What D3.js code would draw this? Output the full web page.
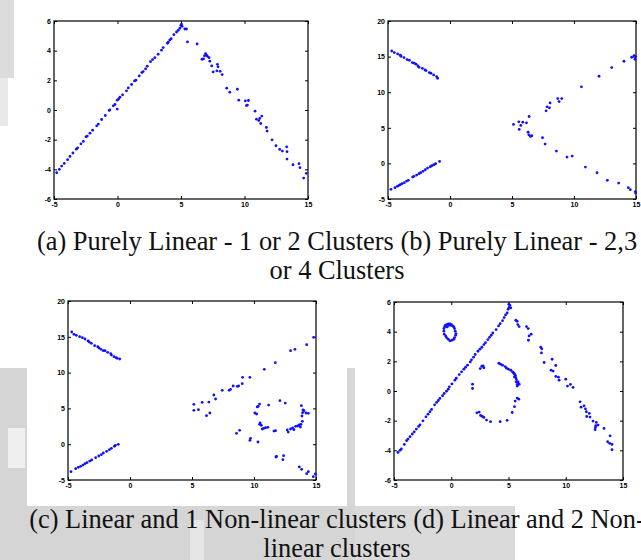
<!DOCTYPE html>
<html>
<head>
<meta charset="utf-8">
<script src="https://cdn.jsdelivr.net/npm/d3@7"></script>
<style>
	body { margin: 0; background: #fff; }
	svg { display: block; }
	.caption { font-family: "Liberation Serif", "Times New Roman", Times, "DejaVu Serif", serif; }
	.tick text { font-family: "Liberation Sans", Arial, Helvetica, sans-serif; }
</style>
</head>
<body>
<svg id="chart" width="641" height="560"></svg>
<script>
	// tick values shared by the four panels
	var xTicks = [-5, 0, 5, 10, 15];
	var yTicksSmall = [-6, -4, -2, 0, 2, 4, 6];
	var yTicksLarge = [-5, 0, 5, 10, 15, 20];

	// (a) purely linear, 1 or 2 clusters
	var pointsA = [
		[-4.79,-4.23],[-4.58,-4.0],[-4.40,-3.78],[-4.19,-3.60],[-3.93,-3.35],[-3.74,-3.13],
		[-3.51,-2.90],[-3.24,-2.64],[-3.14,-2.55],[-2.88,-2.28],[-2.69,-2.12],[-2.48,-1.81],
		[-2.38,-1.76],[-2.17,-1.56],[-1.96,-1.36],[-1.64,-1.07],[-1.51,-0.95],[-1.25,-0.64],
		[-0.96,-0.37],[-0.65,-0.03],[-0.60,0.01],[-0.33,0.28],[-0.20,0.37],[-0.02,0.66],
		[0.09,0.75],[0.19,0.86],[0.40,1.02],[0.71,1.29],[0.85,1.49],[1.11,1.72],[1.34,1.96],
		[1.45,2.01],[1.71,2.30],[1.92,2.52],[2.02,2.59],[2.21,2.77],[2.34,2.95],[2.60,3.26],
		[2.76,3.40],[2.94,3.53],[3.20,3.76],[3.47,4.03],[3.60,4.21],[3.94,4.50],[3.99,4.57],
		[4.12,4.72],[4.23,4.81],[4.44,5.08],[4.65,5.26],[4.78,5.37],[4.91,5.51],[4.99,5.71],
		[5.04,5.78],[5.09,5.64],[-0.02,0.06],
		[5.30,5.46],[5.43,5.46],[5.51,4.59],[6.27,4.45],[6.66,3.42],[6.77,3.44],[6.85,3.65],
		[6.93,3.80],[7.01,3.69],[7.08,3.62],[7.21,3.53],[7.27,3.29],[7.42,2.97],[7.53,2.57],
		[7.82,2.64],[7.87,3.08],[7.92,2.91],[8.08,2.61],[8.24,2.39],[8.60,1.47],[8.84,1.20],
		[9.44,1.40],[9.55,0.66],[10.07,0.62],[10.15,0.30],[10.23,0.33],[10.31,0.64],
		[10.83,-0.08],[10.94,-0.62],[11.12,-0.71],[11.20,-0.57],[11.28,-0.91],[11.36,-0.41],
		[11.72,-1.18],[11.78,-1.42],[12.17,-2.01],[12.48,-2.41],[12.77,-2.66],[12.98,-2.77],
		[13.32,-2.48],[13.35,-2.81],[13.35,-3.31],[13.82,-3.69],[14.29,-3.62],[14.37,-3.89],
		[14.66,-4.59],[14.87,-4.27]
	];

	// (b) purely linear, 2, 3 or 4 clusters
	var pointsB = [
		[-4.70,15.79],[-4.49,15.56],[-4.22,15.37],[-4.01,15.19],[-3.95,15.05],[-3.71,14.86],
		[-3.47,14.58],[-3.28,14.49],[-3.04,14.16],[-2.88,14.07],[-2.74,13.93],[-2.58,13.69],
		[-2.50,13.50],[-2.23,13.36],[-2.02,13.13],[-1.94,13.04],[-1.67,12.76],[-1.54,12.66],
		[-1.32,12.43],[-1.08,12.20],[-1.00,11.96],
		[-4.76,-3.64],[-4.44,-3.41],[-4.25,-3.22],[-4.11,-3.08],[-4.01,-2.99],[-3.87,-2.85],
		[-3.68,-2.71],[-3.50,-2.48],[-3.36,-2.38],[-3.01,-1.92],[-2.91,-1.82],[-2.69,-1.64],
		[-2.50,-1.45],[-2.37,-1.31],[-2.18,-1.12],[-1.99,-0.89],[-1.81,-0.65],[-1.59,-0.47],
		[-1.46,-0.33],[-1.30,-0.19],[-1.16,-0.05],[-0.84,0.28],
		[5.12,5.47],[5.55,5.84],[5.71,5.33],[5.87,5.79],[6.17,5.70],[6.38,6.59],[7.75,7.38],
		[7.83,7.94],[8.02,7.80],[8.07,8.50],[8.69,9.11],[8.80,8.69],[9.01,9.11],[10.60,10.75],
		[12.02,12.24],[13.04,13.46],[14.03,14.35],[14.65,14.91],[14.84,15.14],[14.92,14.63],
		[14.97,15.0],
		[5.58,4.77],[6.30,4.39],[6.36,4.02],[6.49,3.79],[6.60,3.88],
		[7.46,3.60],[7.67,2.71],[8.58,1.73],[9.44,0.89],[9.85,1.03],[10.92,-0.51],[11.86,-1.31],
		[12.69,-2.38],[13.60,-2.76],[14.38,-3.41],[14.54,-3.69],[14.95,-3.97],[14.97,-4.16]
	];

	// (c) linear and 1 non-linear cluster
	var pointsC = [
		[-4.70,15.67],[-4.52,15.34],[-4.33,15.20],[-4.06,15.02],[-3.84,14.88],[-3.63,14.69],
		[-3.38,14.41],[-3.28,14.27],[-3.12,14.09],[-2.85,13.76],[-2.60,13.62],[-2.50,13.44],
		[-2.34,13.25],[-2.15,13.06],[-2.01,13.06],[-1.80,12.83],[-1.55,12.64],[-1.50,12.46],
		[-1.29,12.23],[-1.12,12.09],[-1.04,11.99],[-0.83,11.90],
		[-4.76,-3.84],[-4.38,-3.42],[-4.17,-3.23],[-3.98,-3.09],[-3.79,-2.91],[-3.63,-2.72],
		[-3.47,-2.58],[-3.25,-2.35],[-3.09,-2.21],[-2.77,-1.88],[-2.52,-1.65],[-2.31,-1.46],
		[-2.15,-1.23],[-1.88,-1.00],[-1.66,-0.76],[-1.50,-0.58],[-1.26,-0.30],[-1.18,-0.16],
		[-0.94,-0.02],
		[5.15,5.57],[5.15,4.73],[5.52,4.82],[5.82,5.85],[6.17,3.99],[6.36,5.89],[6.44,4.36],
		[6.76,6.87],[6.90,6.31],[7.44,7.52],[8.00,7.52],[8.11,7.66],[8.32,8.13],[8.65,8.08],
		[8.76,8.13],[9.05,8.45],[9.08,9.34],[9.67,9.34],[10.83,10.46],[11.72,11.39],
		[12.95,13.06],[13.30,13.25],[14.25,13.90],[14.81,14.93],
		[8.59,1.52],[8.84,1.94],[9.67,0.54],[9.72,0.82],[10.32,0.31],[11.82,-1.69],[11.77,-1.79],
		[12.33,-2.16],[12.39,-1.60],[13.65,-3.18],[13.84,-3.51],[14.25,-4.12],[14.38,-3.84],
		[14.78,-4.53],[14.95,-4.16],
		[10.07,4.36],[10.21,4.22],[10.26,5.20],[10.34,5.29],[10.45,5.61],[10.45,2.77],
		[10.50,2.96],[10.59,2.64],[10.67,2.12],[10.80,2.22],[10.94,2.31],[11.12,2.36],
		[11.18,5.47],[11.61,1.84],[11.74,1.89],[12.09,6.08],[12.52,5.75],[12.68,1.98],
		[12.76,1.70],[12.95,2.12],[13.12,2.26],[13.22,2.03],[13.36,2.50],[13.52,2.54],
		[13.65,2.68],[13.74,2.40],[13.79,2.77],[13.90,3.19],[13.87,3.94],[13.92,4.40],
		[13.82,5.38],[13.95,4.78],[14.03,4.68],[14.19,4.36],[14.38,4.31]
	];

	// (d) linear and 2 non-linear clusters
	var pointsD = [
		[-4.65,-4.14],[-4.48,-4.00],[-4.36,-3.91],[-4.10,-3.60],[-3.90,-3.35],[-3.78,-3.24],
		[-3.60,-3.08],[-3.40,-2.90],[-3.23,-2.75],[-3.05,-2.57],[-2.85,-2.39],[-2.73,-2.28],
		[-2.47,-2.01],[-2.21,-1.74],[-2.03,-1.56],[-1.86,-1.40],[-1.72,-1.24],[-1.45,-0.93],
		[-1.28,-0.77],[-1.13,-0.64],[-0.99,-0.50],[-0.76,-0.32],[-0.61,-0.17],[-0.41,-0.01],
		[-0.26,0.12],[-0.17,0.28],[0.06,0.48],[0.32,0.73],[0.44,0.86],[0.70,1.11],[0.90,1.29],
		[1.10,1.47],[1.25,1.60],[1.42,1.74],[1.66,1.96],[1.77,2.10],[1.95,2.28],[2.09,2.46],
		[2.33,2.68],[2.50,2.82],[2.67,2.95],[2.85,3.13],[2.99,3.26],[3.20,3.47],[3.34,3.62],
		[3.49,3.76],[3.63,3.91],[3.92,4.14],[4.13,4.39],[4.27,4.54],[4.48,4.74],[4.62,4.95],
		[4.74,5.13],[4.88,5.26],[4.97,5.51],[5.06,5.64],[5.12,5.78],[5.03,5.84],[5.20,5.60],
		[5.64,4.77],[5.76,4.70],[5.81,4.48],[5.93,4.34],[6.57,4.34],[6.72,4.21],[6.80,3.71],
		[6.74,3.42],[6.98,3.83],[7.82,2.95],[7.91,2.84],[7.88,2.57],[8.11,1.92],[8.72,1.40],
		[8.81,2.14],[8.90,1.34],[9.13,1.72],[9.13,0.98],[9.36,0.93],[9.42,0.73],[10.00,0.80],
		[10.15,0.33],[10.41,0.44],[10.64,0.24],[11.25,-0.73],[11.34,-1.09],[11.60,-1.00],
		[11.72,-1.20],[11.80,-1.40],[11.83,-1.72],[12.06,-1.51],[12.12,-1.76],[12.38,-2.03],
		[12.62,-2.34],[12.59,-2.46],[12.67,-2.12],[12.56,-2.61],[12.82,-2.30],[13.34,-2.52],
		[13.87,-3.02],[13.66,-3.42],[13.84,-3.53],[14.04,-3.60],[14.04,-3.96],
		[-0.64,4.03],[-0.58,4.32],[-0.52,4.43],[-0.41,4.48],[-0.26,4.52],[-0.12,4.52],
		[-0.03,4.43],[0.12,4.39],[0.23,4.32],[0.29,4.21],[0.35,4.03],[0.41,3.87],[0.38,3.76],
		[0.29,3.60],[0.23,3.49],[0.06,3.42],[-0.12,3.38],[-0.26,3.49],[-0.41,3.60],
		[-0.49,3.71],[-0.61,3.83],[-0.64,4.21],[-0.35,4.32],[-0.20,4.43],[0.03,4.48],
		[1.86,0.46],[1.86,0.17],[2.53,1.51],[2.67,1.67],[2.79,1.69],[2.85,1.56],[2.24,-1.47],
		[2.44,-1.42],[2.56,-1.65],[2.73,-1.72],[2.85,-1.78],[3.08,-1.96],[3.43,-2.07],
		[4.27,-2.07],[4.88,-1.98],[5.32,-1.45],[5.52,-1.06],[5.58,-0.68],[5.76,-0.48],
		[5.90,-0.55],[5.76,0.33],[5.84,0.46],[5.93,0.46],[5.84,0.62],[5.70,0.77],[5.64,0.89],
		[5.61,1.02],[5.55,1.11],[5.49,1.18],[5.41,1.25],[5.35,1.29],[5.20,1.40],[5.00,1.47],
		[4.83,1.54],[4.71,1.65],[4.48,1.74],[4.30,1.81],[4.16,1.87],[5.52,0.95],[5.67,0.62],
		[5.76,0.44]
	];

	var captionsTop = ["(a) Purely Linear - 1 or 2 Clusters (b) Purely Linear - 2,3", "or 4 Clusters"];
	var captionsBottom = ["(c) Linear and 1 Non-linear clusters (d) Linear and 2 Non-", "linear clusters"];

	var svg = d3.select("#chart");

	//  faded scan background behind the figure
	var bg = svg.append("g").attr("class", "background");
	[
		{x: 0, y: 0, w: 14, h: 78, c: "#dcdcdc"},
		{x: 0, y: 78, w: 8, h: 48, c: "#e9e9e9"},
		{x: 0, y: 368, w: 27, h: 192, c: "#d5d5d5"},
		{x: 8, y: 428, w: 17, h: 40, c: "#efefef"},
		{x: 347, y: 368, w: 8, h: 138, c: "#d6d6d6"},
		{x: 0, y: 506, w: 515, h: 54, c: "#d5d5d5"},
		{x: 190, y: 520, w: 14, h: 40, c: "#e6e6e6"},
		{x: 355, y: 506, w: 160, h: 54, c: "#dadada"}
	].forEach(function(r) {
		bg.append("rect").attr("x", r.x).attr("y", r.y)
			.attr("width", r.w).attr("height", r.h).attr("fill", r.c);
	});
	// panel (c) and (d) paper is white on top of the grey
	bg.append("rect").attr("x", 27).attr("y", 290).attr("width", 320).attr("height", 216).attr("fill", "#fff");

	var panels = [
		{data: pointsA, yDomain: [-6, 6], yTicks: yTicksSmall, left: 54, top: 21, right: 308, bottom: 199},
		{data: pointsB, yDomain: [-5, 20], yTicks: yTicksLarge, left: 388, top: 21, right: 636, bottom: 199},
		{data: pointsC, yDomain: [-5, 20], yTicks: yTicksLarge, left: 68, top: 301, right: 316, bottom: 480},
		{data: pointsD, yDomain: [-6, 6], yTicks: yTicksSmall, left: 394, top: 302, right: 623, bottom: 480}
	];

	function fmt(d) { return String(d); }

	panels.forEach(function(p) {
		var x = d3.scaleLinear().domain([-5, 15]).range([p.left, p.right]);
		var y = d3.scaleLinear().domain(p.yDomain).range([p.bottom, p.top]);
		var g = svg.append("g").attr("class", "panel");

		g.append("rect")
			.attr("x", p.left).attr("y", p.top)
			.attr("width", p.right - p.left).attr("height", p.bottom - p.top)
			.attr("fill", "#fff");

		var axes = [
			{axis: d3.axisBottom(x).tickValues(xTicks).tickFormat(fmt), t: "translate(0," + p.bottom + ")"},
			{axis: d3.axisTop(x).tickValues(xTicks).tickFormat(""), t: "translate(0," + p.top + ")"},
			{axis: d3.axisLeft(y).tickValues(p.yTicks).tickFormat(fmt), t: "translate(" + p.left + ",0)"},
			{axis: d3.axisRight(y).tickValues(p.yTicks).tickFormat(""), t: "translate(" + p.right + ",0)"}
		];
		axes.forEach(function(a) {
			var ag = g.append("g")
				.attr("transform", a.t)
				.call(a.axis.tickSize(-3).tickPadding(3));
			ag.attr("font-family", null).attr("font-size", null);
			ag.select(".domain").remove();
			ag.selectAll("line").attr("stroke", "#000").attr("stroke-width", 1);
			ag.selectAll("text")
				.style("font-size", "7px")
				.style("font-weight", "bold")
				.attr("fill", "#000");
		});

		g.append("rect")
			.attr("x", p.left).attr("y", p.top)
			.attr("width", p.right - p.left).attr("height", p.bottom - p.top)
			.attr("fill", "none").attr("stroke", "#000").attr("stroke-width", 1.2);

		g.selectAll(".dot")
			.data(p.data)
			.enter().append("circle")
			.attr("class", "dot")
			.attr("cx", function(d) { return x(d[0]); })
			.attr("cy", function(d) { return y(d[1]); })
			.attr("r", 1.4)
			.attr("fill", "#1010ff");
	});

	//  sub-figure captions
	function appendCaption(lines, baseline) {
		svg.append("g").selectAll("text")
			.data(lines)
			.enter().append("text")
			.attr("class", "caption")
			.attr("x", 337)
			.attr("y", function(d, i) { return baseline + i * 29; })
			.attr("text-anchor", "middle")
			.style("font-size", "26.4px")
			.attr("fill", "#111")
			.text(function(d) { return d; });
	}
	appendCaption(captionsTop, 250);
	appendCaption(captionsBottom, 528);
</script>
</body>
</html>
